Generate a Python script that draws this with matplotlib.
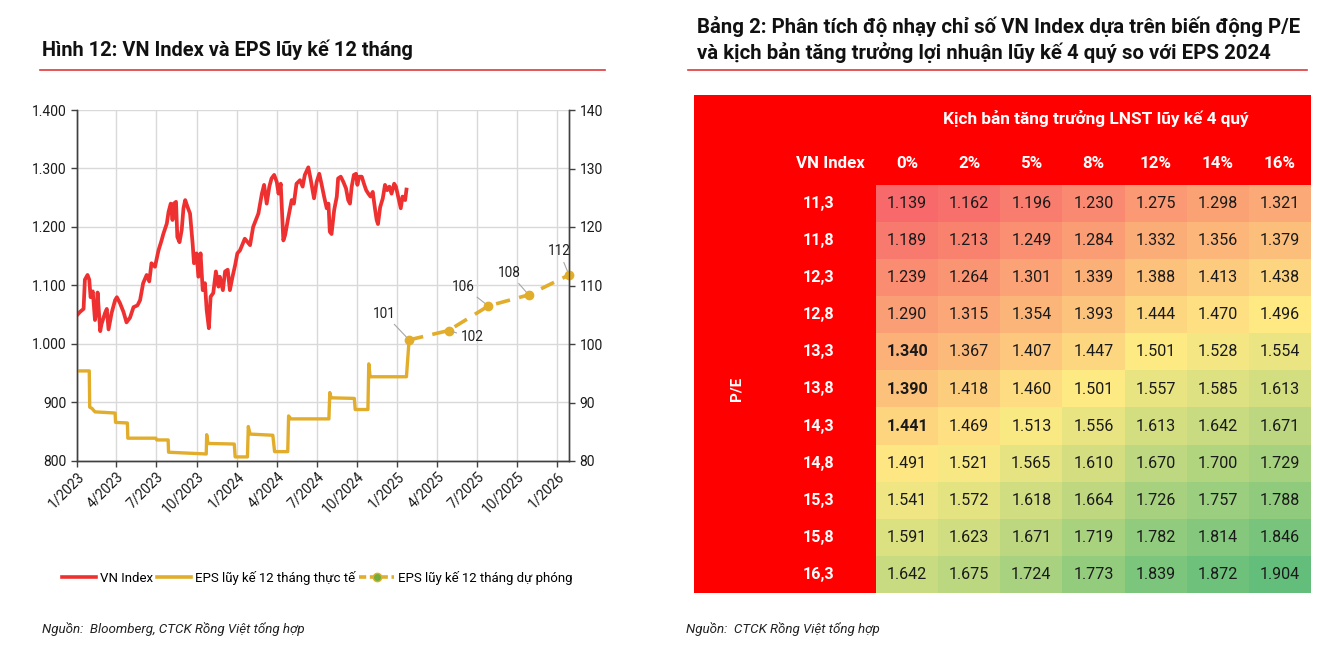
import numpy as np
import matplotlib
matplotlib.use("Agg")
from matplotlib import pyplot as plt
from matplotlib.lines import Line2D
from matplotlib.patches import Rectangle
from matplotlib.colors import LinearSegmentedColormap, Normalize
from matplotlib.ticker import FuncFormatter

plt.rcParams['font.family'] = ['Roboto', 'DejaVu Sans']

# ---- data: left chart (days counted from 1/1/2023) ----
vn_days = [1, 7, 15, 18, 24, 28, 31, 36, 41, 45,
           47, 53, 56, 64, 68, 72, 79, 87, 91, 98,
           106, 113, 121, 129, 138, 144, 151, 159, 165, 170,
           178, 186, 193, 197, 205, 209, 214, 218, 221, 226,
           229, 234, 239, 243, 247, 252, 258, 264, 267, 273,
           277, 282, 287, 292, 296, 301, 305, 311, 317, 323,
           326, 333, 338, 344, 349, 355, 361, 366, 372,
           383, 395, 402, 414, 422, 427, 433, 439, 444, 450,
           456, 460, 465, 471, 475, 482, 490, 495, 501, 509,
           515, 520, 528, 533, 541, 547, 553, 558, 564, 570,
           574, 577, 581, 587, 593, 596, 602, 608, 614, 619,
           623, 627, 632, 637, 640, 644, 650, 655, 660, 665,
           670, 675, 680, 684, 687, 692, 698, 703, 708, 713,
           718, 724, 728, 733, 739, 743, 749, 752]
vn_index = [1050, 1055, 1060, 1110, 1118, 1110, 1080, 1090, 1041, 1060,
            1088, 1022, 1034, 1053, 1060, 1025, 1053, 1075, 1080, 1070,
            1055, 1037, 1045, 1063, 1066, 1075, 1104, 1118, 1107, 1138,
            1132, 1160, 1177, 1188, 1206, 1226, 1240, 1212, 1240, 1243,
            1183, 1174, 1195, 1232, 1246, 1235, 1223, 1171, 1138, 1155,
            1115, 1155, 1092, 1104, 1058, 1027, 1081, 1087, 1124, 1098,
            1115, 1092, 1124, 1127, 1092, 1115, 1135, 1155, 1160,
            1180, 1169, 1200, 1223, 1257, 1272, 1240, 1269, 1283, 1289,
            1277, 1257, 1274, 1177, 1186, 1215, 1246, 1240, 1274, 1280,
            1269, 1289, 1302, 1283, 1249, 1277, 1291, 1274, 1252, 1232,
            1240, 1192, 1188, 1229, 1252, 1283, 1286, 1277, 1266, 1246,
            1240, 1269, 1289, 1291, 1272, 1286, 1286, 1274, 1263, 1257,
            1252, 1260, 1232, 1212, 1205, 1234, 1249, 1272, 1263, 1269,
            1257, 1274, 1269, 1252, 1232, 1252, 1246, 1264]

eps_days = [0, 28, 29, 34, 41, 87, 88, 115, 116, 180, 182, 208, 209, 295, 296,
            299, 359, 361, 389, 391, 395, 447, 451, 481, 483, 488, 575, 577,
            580, 633, 635, 664, 666, 669, 752, 758]
eps_actual = [95.4, 95.4, 89.2, 89.0, 88.4, 88.2, 86.6, 86.5, 83.9, 83.9, 83.6,
              83.6, 81.5, 81.2, 84.5, 83.0, 82.9, 80.7, 80.7, 85.9, 84.6, 84.4,
              81.6, 81.6, 87.7, 87.2, 87.2, 91.7, 90.8, 90.7, 88.8, 88.8, 96.6,
              94.4, 94.4, 100.7]

fc_days = [758, 848, 939, 1031, 1123]
eps_forecast = [100.7, 102.3, 106.5, 108.4, 111.8]
fc_labels = ['101', '102', '106', '108', '112']
fc_offsets = [(-18, 19), (17, -5), (-18, 14), (-14, 16), (-7, 17)]

# ---- data: right table ----
pe_rows = ['11,3', '11,8', '12,3', '12,8', '13,3', '13,8', '14,3', '14,8', '15,3', '15,8', '16,3']
growth_cols = ['0%', '2%', '5%', '8%', '12%', '14%', '16%']
vn_matrix = np.array([
    [1139, 1162, 1196, 1230, 1275, 1298, 1321],
    [1189, 1213, 1249, 1284, 1332, 1356, 1379],
    [1239, 1264, 1301, 1339, 1388, 1413, 1438],
    [1290, 1315, 1354, 1393, 1444, 1470, 1496],
    [1340, 1367, 1407, 1447, 1501, 1528, 1554],
    [1390, 1418, 1460, 1501, 1557, 1585, 1613],
    [1441, 1469, 1513, 1556, 1613, 1642, 1671],
    [1491, 1521, 1565, 1610, 1670, 1700, 1729],
    [1541, 1572, 1618, 1664, 1726, 1757, 1788],
    [1591, 1623, 1671, 1719, 1782, 1814, 1846],
    [1642, 1675, 1724, 1773, 1839, 1872, 1904]])
bold_cells = [(4, 0), (5, 0), (6, 0)]

RED = '#EE3130'
YEL = '#E1AD2B'
W, H = 1331, 660

fig = plt.figure(figsize=(W / 100, H / 100), dpi=100)

def fx(px):
    return px / W

def fy(py):
    return 1 - py / H

base = np.datetime64('2023-01-01')
def to_dates(days):
    return base + np.array(days).astype('timedelta64[D]')

# ---- left chart ----
ax = fig.add_axes([fx(77), fy(461), fx(569) - fx(77), fy(110) - fy(461)])
ax2 = ax.twinx()

ax.plot(to_dates(vn_days), vn_index, color=RED, lw=2.7, solid_joinstyle='round', zorder=3)
ax2.plot(to_dates(eps_days), eps_actual, color=YEL, lw=2.4, solid_joinstyle='round')
ax2.plot(to_dates(fc_days), eps_forecast, color=YEL, lw=2.6, ls=(0, (4, 2.6)),
         marker='o', ms=6, mfc=YEL, mec=YEL, clip_on=False)
for d, v, lab, off in zip(to_dates(fc_days), eps_forecast, fc_labels, fc_offsets):
    ax2.annotate(lab, (d, v), xytext=off, textcoords='offset points', fontsize=9.8,
                 color='#222222', ha='center', va='center',
                 arrowprops=dict(arrowstyle='-', color='#A6A6A6', lw=0.8, shrinkA=1, shrinkB=3))

ax.set_xlim(base, base + np.timedelta64(1123, 'D'))
ax.set_ylim(800, 1400)
ax2.set_ylim(80, 140)
ax.set_yticks(np.arange(800, 1401, 100))
ax2.set_yticks(np.arange(80, 141, 10))
ax.yaxis.set_major_formatter(FuncFormatter(lambda v, p: f"{v:,.0f}".replace(',', '.')))

qticks = to_dates([0, 90, 181, 273, 365, 456, 547, 639, 731, 821, 912, 1004, 1096])
ax.set_xticks(qticks)
ax.set_xticklabels([f"{m}/{y}" for y in (2023, 2024, 2025) for m in (1, 4, 7, 10)] + ['1/2026'],
                   rotation=45, ha='right', rotation_mode='anchor')
ax.grid(True, color='#D9D9D9', lw=1)
ax.set_axisbelow(True)
for a in (ax, ax2):
    a.spines['top'].set_visible(False)
    for s in ('left', 'right', 'bottom'):
        a.spines[s].set_color('#404040')
        a.spines[s].set_linewidth(1)
    a.tick_params(labelsize=10, colors='#404040', labelcolor='#1a1a1a', length=4, width=1)
ax.tick_params(axis='x', pad=2)

handles = [Line2D([], [], color=RED, lw=2.6),
           Line2D([], [], color=YEL, lw=2.6),
           Line2D([], [], color=YEL, lw=2.6, ls=(0, (2, 1)), marker='o', ms=6,
                  mfc='#6FAE3E', mec=YEL)]
fig.legend(handles, ['VN Index', 'EPS lũy kế 12 tháng thực tế', 'EPS lũy kế 12 tháng dự phóng'],
           loc='center', bbox_to_anchor=(fx(317), fy(578)), ncol=3, frameon=False,
           fontsize=9.5, handlelength=2.6, handletextpad=0.3, columnspacing=0.3)

fig.text(fx(42), fy(50), 'Hình 12: VN Index và EPS lũy kế 12 tháng', fontsize=14.4,
         fontweight='bold', va='center', color='#111111')
fig.text(fx(42), fy(629), 'Nguồn:  Bloomberg, CTCK Rồng Việt tổng hợp', fontsize=9.6,
         style='italic', va='center', color='#222222')
fig.lines.append(Line2D([fx(40), fx(605)], [fy(70), fy(70)], color='#E0383A', lw=1.2,
                        transform=fig.transFigure))

# ---- right table ----
fig.text(fx(697), fy(27), 'Bảng 2: Phân tích độ nhạy chỉ số VN Index dựa trên biến động P/E',
         fontsize=14.7, fontweight='bold', va='center', color='#111111')
fig.text(fx(697), fy(53), 'và kịch bản tăng trưởng lợi nhuận lũy kế 4 quý so với EPS 2024',
         fontsize=14.7, fontweight='bold', va='center', color='#111111')
fig.lines.append(Line2D([fx(688), fx(1307)], [fy(70), fy(70)], color='#E0383A', lw=1.2,
                        transform=fig.transFigure))
fig.patches.append(Rectangle((fx(694), fy(593)), fx(1311) - fx(694), fy(95) - fy(593),
                             facecolor='#FF0000', edgecolor='none', transform=fig.transFigure,
                             zorder=-1))
fig.text(fx(686), fy(629), 'Nguồn:  CTCK Rồng Việt tổng hợp', fontsize=9.6,
         style='italic', va='center', color='#222222')

tx = fig.add_axes([fx(876), fy(593), fx(1311) - fx(876), fy(185) - fy(593)])
tx.set_zorder(2)
mid = np.percentile(vn_matrix, 50)
lo, hi = vn_matrix.min(), vn_matrix.max()
cmap = LinearSegmentedColormap.from_list(
    'excel3', [(0, '#F8696B'), ((mid - lo) / (hi - lo), '#FFEB84'), (1, '#63BE7B')])
tx.imshow(vn_matrix, cmap=cmap, norm=Normalize(lo, hi), aspect='auto', interpolation='nearest')
tx.set_axis_off()

for i in range(len(pe_rows)):
    for j in range(len(growth_cols)):
        b = (i, j) in bold_cells
        tx.text(j, i, f"{vn_matrix[i, j] / 1000:.3f}", ha='center', va='center',
                fontsize=11.6, color='#1a1a1a', fontweight='bold' if b else 'normal')
    tx.text(-1.43, i, pe_rows[i], ha='center', va='center', fontsize=11.6, fontweight='bold',
            color='white', clip_on=False)
for j, c in enumerate(growth_cols):
    tx.text(j, -1.08, c, ha='center', va='center', fontsize=12.2, fontweight='bold',
            color='white', clip_on=False)
tx.text(-1.24, -1.08, 'VN Index', ha='center', va='center', fontsize=12.2, fontweight='bold',
        color='white', clip_on=False)
tx.text(3.03, -2.3, 'Kịch bản tăng trưởng LNST lũy kế 4 quý', ha='center', va='center',
        fontsize=12.4, fontweight='bold', color='white', clip_on=False)
tx.text(-2.74, 5.0, 'P/E', ha='center', va='center', rotation=90, fontsize=11,
        fontweight='bold', color='white', clip_on=False)

fig.savefig('out.png', dpi=100)
